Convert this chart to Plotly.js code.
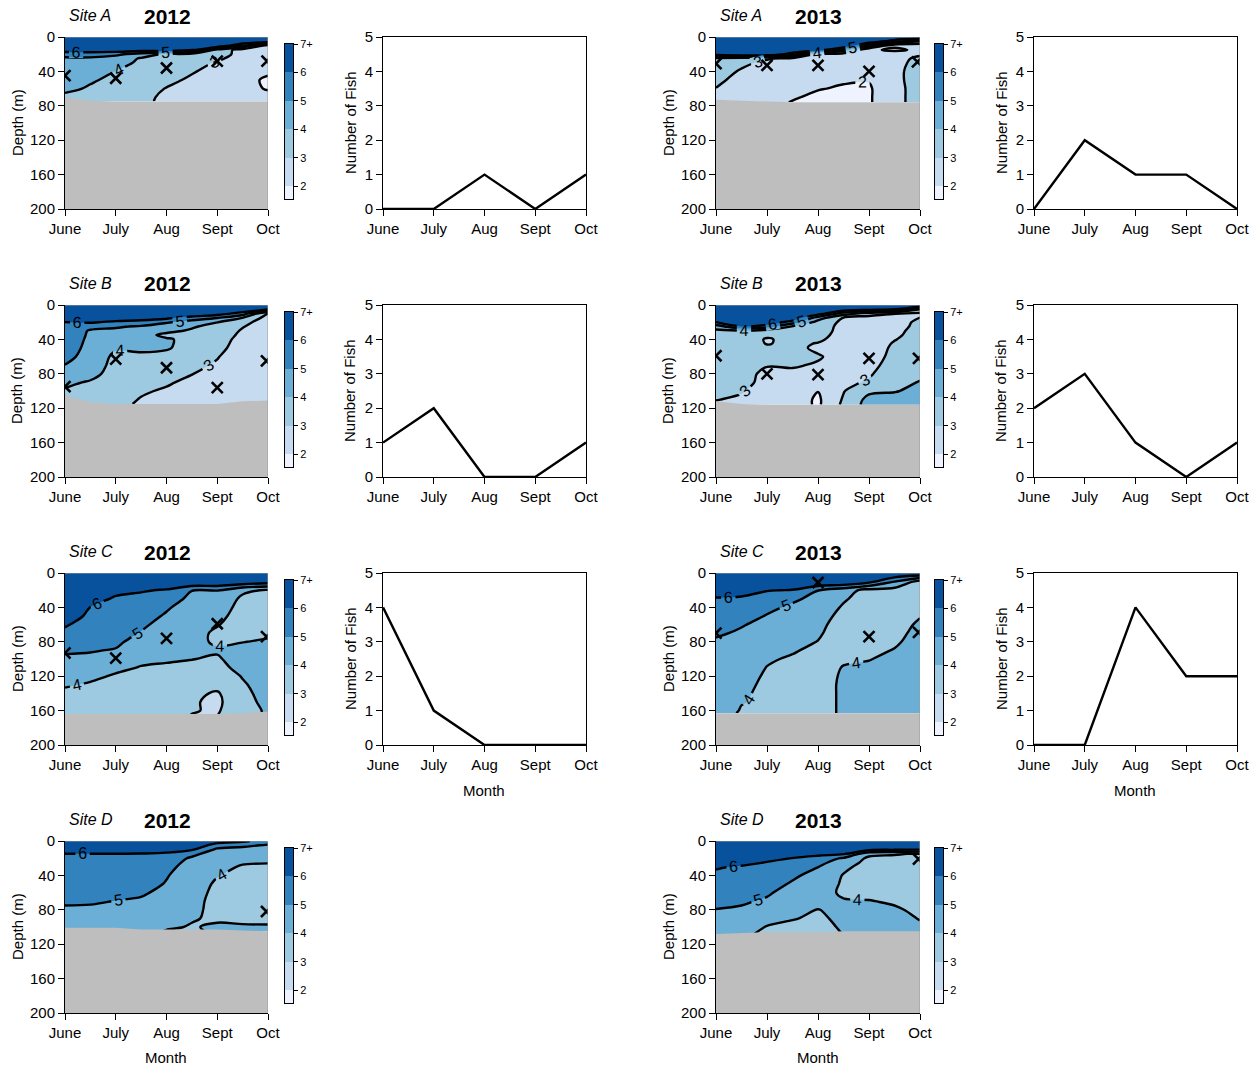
<!DOCTYPE html>
<html>
<head>
<meta charset="utf-8">
<script src="https://cdn.plot.ly/plotly-3.0.1.min.js"></script>
<style>
  html, body { margin: 0; padding: 0; background: #fff; }
  #chart { width: 1257px; height: 1067px; }
</style>
</head>
<body>
<div id="chart"></div>
<script>
// ---- shared axes values ----
const months = ['June', 'July', 'Aug', 'Sept', 'Oct'];
const monthPos = [0, 1, 2, 3, 4];
const gridMonths = [0, 0.5, 1, 1.5, 2, 2.5, 3, 3.5, 4];
const depthTicks = [0, 40, 80, 120, 160, 200];
const fishTicks = [0, 1, 2, 3, 4, 5];
const levelTicks = [2, 3, 4, 5, 6, 7];
const levelLabels = ['2', '3', '4', '5', '6', '7+'];
const levelEdges = [1.55, 2, 3, 4, 5, 6, 7];
const levelBands = [[0], [1], [2], [3], [4], [5]];

// ---- Site A 2012 ----
const depthA2012 = [0, 5, 10, 15, 20, 25, 30, 40, 50, 60, 70, 75];
const fieldA2012 = [ // one column per half month, June -> Oct
  [7, 7, 7, 6.5, 5.5, 4.8, 4.6, 4.5, 4.4, 4.2, 3.8, 3.8],
  [7, 7, 7, 6.5, 5.6, 4.8, 4.6, 4.4, 4.1, 3.9, 3.8, 3.8],
  [7, 7, 7, 6.7, 5.2, 4.6, 4.4, 3.98, 3.8, 3.7, 3.6, 3.6],
  [7, 7, 7, 6.5, 4.6, 3.9, 3.8, 3.7, 3.6, 3.5, 3.4, 3.3],
  [7, 7, 7, 6.8, 3.8, 3.7, 3.6, 3.5, 3.3, 2.95, 2.7, 2.7],
  [7, 7, 7, 6.2, 3.6, 3.5, 3.4, 3.1, 2.8, 2.6, 2.5, 2.5],
  [7, 7, 7, 3.6, 3.5, 3.2, 2.9, 2.6, 2.5, 2.5, 2.5, 2.5],
  [7, 7, 5, 2.6, 2.6, 2.5, 2.5, 2.5, 2.4, 2.4, 2.45, 2.5],
  [7, 7, 2.5, 2.5, 2.5, 2.4, 2.3, 2.2, 1.8, 1.9, 2.4, 2.5]
];
const floorA2012 = [70, 74, 75, 75, 75, 75, 75, 75, 75];
const markMonthA2012 = [0, 1, 2, 3, 3.98];
const markDepthA2012 = [45, 48, 36, 28, 28];
const fishA2012 = [0, 0, 1, 0, 1];

// ---- Site A 2013 ----
const depthA2013 = [0, 5, 10, 15, 20, 25, 30, 40, 50, 60, 70, 76];
const fieldA2013 = [
  [7, 7, 7, 7, 6.6, 3.6, 3.5, 3.4, 3.2, 2.98, 2.8, 2.8],
  [7, 7, 7, 7, 7, 3.4, 3.2, 2.9, 2.7, 2.6, 2.6, 2.6],
  [7, 7, 7, 7, 7, 3.1, 2.8, 2.6, 2.5, 2.4, 2.3, 2.3],
  [7, 7, 7, 7, 5.5, 2.7, 2.6, 2.5, 2.4, 2.3, 2.1, 1.95],
  [7, 7, 7, 6.5, 2.7, 2.5, 2.4, 2.3, 2.2, 2.05, 1.8, 1.8],
  [7, 7, 7, 4.5, 2.6, 2.5, 2.4, 2.3, 2.1, 1.9, 1.8, 1.8],
  [7, 6.8, 4.5, 2.1, 2.3, 2.4, 2.4, 2.3, 2.05, 1.9, 1.9, 1.9],
  [7, 5.5, 2.1, 1.9, 2.3, 2.5, 2.6, 2.7, 2.7, 2.7, 2.7, 2.7],
  [7, 4, 2.2, 2.1, 2.8, 3.3, 3.4, 3.5, 3.5, 3.4, 3.4, 3.4]
];
const floorA2013 = [73, 74, 75, 76, 76, 76, 76, 76, 76];
const markMonthA2013 = [0, 1, 2, 3, 3.95];
const markDepthA2013 = [31, 33, 33, 40, 29];
const fishA2013 = [0, 2, 1, 1, 0];

// ---- Site B 2012 ----
const depthB2012 = [0, 5, 10, 15, 20, 25, 30, 35, 40, 50, 60, 70, 80, 90, 100, 110, 115];
const fieldB2012 = [
  [7, 7, 7, 6.8, 5.98, 5.8, 5.7, 5.65, 5.6, 5.5, 5.3, 4.98, 4.6, 4.2, 3.9, 3.7, 3.6],
  [7, 7, 7, 6.7, 6.1, 5.3, 4.9, 4.85, 4.8, 4.7, 4.6, 4.5, 4.3, 3.9, 3.7, 3.5, 3.4],
  [7, 7, 7, 6.6, 5.8, 5.1, 4.8, 4.65, 4.5, 4.1, 3.8, 3.7, 3.6, 3.5, 3.4, 3.3, 3.2],
  [7, 7, 7, 6.5, 5.6, 4.9, 4.5, 4.3, 4.4, 4.2, 3.8, 3.6, 3.5, 3.3, 3.1, 2.95, 2.9],
  [7, 7, 7, 6.2, 5.1, 4.5, 4.2, 3.8, 4.1, 4.1, 3.7, 3.5, 3.3, 3.1, 2.9, 2.7, 2.6],
  [7, 7, 7, 5.5, 4.6, 4.1, 3.9, 3.8, 3.75, 3.6, 3.4, 3.2, 3.02, 2.8, 2.7, 2.6, 2.6],
  [7, 7, 6.5, 5.02, 4.02, 3.7, 3.6, 3.5, 3.4, 3.25, 3.05, 2.9, 2.8, 2.7, 2.6, 2.5, 2.5],
  [7, 7, 5.5, 3.98, 3.3, 3.05, 2.9, 2.8, 2.7, 2.6, 2.5, 2.5, 2.45, 2.4, 2.4, 2.4, 2.4],
  [7, 6.2, 2.8, 2.6, 2.5, 2.5, 2.5, 2.5, 2.5, 2.4, 2.4, 2.4, 2.4, 2.4, 2.4, 2.4, 2.4]
];
const floorB2012 = [105, 113, 115, 115, 115, 115, 115, 112, 111];
const markMonthB2012 = [0, 1, 2, 3, 3.97];
const markDepthB2012 = [95, 63, 73, 96, 65];
const fishB2012 = [1, 2, 0, 0, 1];

// ---- Site B 2013 ----
const depthB2013 = [0, 5, 10, 15, 20, 25, 30, 35, 40, 45, 50, 60, 70, 80, 90, 100, 110, 116];
const fieldB2013 = [
  [7, 7, 7, 6.8, 5.98, 4.5, 3.8, 3.7, 3.6, 3.6, 3.5, 3.5, 3.4, 3.3, 3.2, 3.1, 3.02, 2.9],
  [7, 7, 7, 7, 6.8, 5.98, 3.9, 3.7, 3.6, 3.6, 3.55, 3.5, 3.4, 3.3, 3.2, 3.05, 2.9, 2.8],
  [7, 7, 7, 7, 6.8, 5.5, 3.5, 3.2, 2.9, 2.95, 3.2, 3.3, 3.05, 2.8, 2.8, 2.7, 2.6, 2.6],
  [7, 7, 7, 6.8, 5.5, 3.9, 3.6, 3.4, 3.3, 3.2, 3.3, 3.3, 3.1, 2.8, 2.7, 2.6, 2.5, 2.5],
  [7, 7, 6.5, 4.5, 3.6, 3.5, 3.4, 3.3, 3.15, 2.95, 2.8, 3.1, 2.9, 2.6, 2.3, 2.02, 1.85, 1.85],
  [7, 6.8, 4.5, 2.9, 2.8, 2.7, 2.7, 2.65, 2.6, 2.6, 2.6, 2.6, 2.65, 2.7, 2.8, 2.95, 3.1, 3.2],
  [7, 6.4, 3.5, 2.6, 2.5, 2.45, 2.4, 2.4, 2.4, 2.4, 2.4, 2.5, 2.7, 2.9, 3.1, 3.8, 4.3, 4.4],
  [7, 6.02, 3.02, 2.7, 2.6, 2.6, 2.7, 2.8, 2.95, 3.1, 3.2, 3.3, 3.4, 3.5, 3.7, 3.95, 4.3, 4.3],
  [7, 3.98, 2.8, 3.02, 3.2, 3.3, 3.4, 3.45, 3.5, 3.5, 3.55, 3.6, 3.7, 3.8, 4.05, 4.2, 4.2, 4.2]
];
const floorB2013 = [112, 115, 116, 116, 116, 116, 116, 116, 116];
const markMonthB2013 = [0, 1, 2, 3, 3.97];
const markDepthB2013 = [59, 80, 81, 62, 62];
const fishB2013 = [2, 3, 1, 0, 1];

// ---- Site C 2012 ----
const depthC2012 = [0, 10, 20, 30, 40, 50, 60, 70, 80, 90, 100, 110, 120, 130, 140, 150, 160, 165];
const fieldC2012 = [
  [7, 7, 7, 7, 6.8, 6.5, 6.1, 5.8, 5.5, 5.15, 4.8, 4.6, 4.4, 4.1, 3.8, 3.6, 3.5, 3.5],
  [7, 7, 7, 6.6, 5.98, 5.8, 5.6, 5.4, 5.25, 5.05, 4.85, 4.6, 4.2, 3.9, 3.7, 3.6, 3.5, 3.5],
  [7, 7, 6.4, 5.8, 5.7, 5.6, 5.5, 5.35, 5.15, 4.95, 4.5, 4.2, 3.9, 3.7, 3.6, 3.55, 3.5, 3.5],
  [7, 7, 6.1, 5.7, 5.5, 5.35, 5.15, 4.95, 4.7, 4.45, 4.2, 3.95, 3.8, 3.7, 3.6, 3.5, 3.45, 3.45],
  [7, 7, 5.9, 5.4, 5.1, 4.9, 4.7, 4.55, 4.4, 4.25, 4.08, 3.9, 3.75, 3.6, 3.5, 3.4, 3.35, 3.35],
  [7, 7, 5.02, 4.8, 4.6, 4.5, 4.4, 4.3, 4.2, 4.1, 4.02, 3.8, 3.6, 3.4, 3.2, 3.1, 3.05, 2.98],
  [7, 7, 5.02, 4.8, 4.6, 4.3, 4.05, 3.85, 3.9, 4.1, 3.9, 3.7, 3.5, 3.3, 2.9, 2.8, 2.9, 2.98],
  [7, 6.8, 4.2, 3.8, 3.6, 3.55, 3.6, 3.8, 3.98, 4.3, 4.4, 4.3, 4.05, 3.9, 3.8, 3.75, 3.7, 3.7],
  [7, 6.5, 3.9, 3.6, 3.5, 3.5, 3.6, 3.85, 4.1, 4.4, 4.5, 4.5, 4.5, 4.4, 4.3, 4.2, 4.1, 4.1]
];
const floorC2012 = [164, 164, 164, 164, 164, 164, 164, 163, 161];
const markMonthC2012 = [0, 1, 2, 3, 3.97];
const markDepthC2012 = [93, 99, 76, 59, 74];
const fishC2012 = [4, 1, 0, 0, 0];

// ---- Site C 2013 ----
const depthC2013 = [0, 10, 20, 30, 40, 50, 60, 70, 80, 90, 100, 110, 120, 130, 140, 150, 160, 163];
const fieldC2013 = [
  [7, 7, 6.6, 5.9, 5.7, 5.5, 5.3, 5.1, 4.9, 4.8, 4.7, 4.6, 4.55, 4.5, 4.5, 4.45, 4.4, 4.4],
  [7, 7, 6.4, 5.85, 5.6, 5.35, 5.05, 4.9, 4.75, 4.6, 4.5, 4.4, 4.3, 4.2, 4.1, 4.03, 3.95, 3.9],
  [7, 7, 6.05, 5.6, 5.2, 4.95, 4.8, 4.6, 4.4, 4.25, 4.1, 3.98, 3.9, 3.85, 3.85, 3.9, 3.9, 3.9],
  [7, 7, 5.95, 5.15, 4.85, 4.7, 4.55, 4.4, 4.25, 4.08, 3.9, 3.8, 3.75, 3.7, 3.7, 3.7, 3.7, 3.7],
  [7, 7, 5.02, 4.75, 4.55, 4.35, 4.2, 4.1, 3.98, 3.8, 3.6, 3.55, 3.5, 3.5, 3.5, 3.5, 3.5, 3.5],
  [7, 7, 4.4, 4.1, 3.9, 3.75, 3.65, 3.6, 3.6, 3.7, 3.85, 4.05, 4.15, 4.2, 4.2, 4.2, 4.2, 4.2],
  [7, 6.3, 3.7, 3.6, 3.5, 3.45, 3.45, 3.5, 3.6, 3.75, 3.95, 4.2, 4.3, 4.3, 4.3, 4.3, 4.3, 4.3],
  [7, 5.02, 3.6, 3.5, 3.5, 3.55, 3.6, 3.7, 3.85, 4.05, 4.3, 4.4, 4.4, 4.4, 4.4, 4.4, 4.4, 4.4],
  [7, 3.6, 3.5, 3.6, 3.75, 3.95, 4.15, 4.3, 4.4, 4.5, 4.5, 4.5, 4.5, 4.5, 4.5, 4.5, 4.5, 4.5]
];
const floorC2013 = [163, 163, 163, 163, 163, 163, 163, 163, 163];
const markMonthC2013 = [0, 2, 3, 3.97];
const markDepthC2013 = [70, 11, 74, 69];
const fishC2013 = [0, 0, 4, 2, 2];

// ---- Site D 2012 ----
const depthD2012 = [0, 5, 10, 15, 20, 30, 40, 50, 60, 70, 80, 90, 100, 105];
const fieldD2012 = [
  [7, 7, 7, 5.95, 5.9, 5.8, 5.7, 5.5, 5.3, 5.1, 4.9, 4.7, 4.6, 4.6],
  [7, 7, 7, 5.95, 5.85, 5.75, 5.6, 5.45, 5.3, 5.1, 4.85, 4.7, 4.6, 4.6],
  [7, 7, 7, 5.95, 5.8, 5.7, 5.55, 5.4, 5.2, 4.98, 4.8, 4.65, 4.55, 4.5],
  [7, 7, 7, 5.9, 5.75, 5.6, 5.45, 5.3, 5.1, 4.9, 4.7, 4.5, 4.3, 4.3],
  [7, 7, 6.5, 5.8, 5.4, 5.2, 5.05, 4.95, 4.8, 4.7, 4.6, 4.4, 4.1, 3.95],
  [7, 6.8, 6.1, 5.2, 4.9, 4.7, 4.6, 4.5, 4.4, 4.3, 4.2, 4.05, 3.95, 3.9],
  [6.5, 5.5, 4.8, 4.6, 4.5, 4.3, 4.05, 3.85, 3.75, 3.7, 3.75, 3.9, 4.1, 4.1],
  [6.2, 5.2, 4.7, 4.5, 4.3, 3.9, 3.7, 3.6, 3.55, 3.55, 3.6, 3.8, 4.1, 4.15],
  [5.5, 4.9, 4.6, 4.5, 4.3, 3.8, 3.6, 3.55, 3.5, 3.5, 3.55, 3.75, 4.1, 4.2]
];
const floorD2012 = [101, 101, 101, 103, 103, 103, 103, 104, 105];
const markMonthD2012 = [3.97];
const markDepthD2012 = [82];

// ---- Site D 2013 ----
const depthD2013 = [0, 5, 10, 15, 20, 25, 30, 40, 50, 60, 70, 80, 90, 100, 108];
const fieldD2013 = [
  [7, 7, 7, 7, 6.8, 6.5, 6.1, 5.8, 5.6, 5.4, 5.2, 4.98, 4.8, 4.7, 4.6],
  [7, 7, 7, 7, 6.7, 6.3, 5.9, 5.7, 5.5, 5.3, 5.1, 4.9, 4.7, 4.5, 4.3],
  [7, 7, 7, 6.8, 6.3, 5.95, 5.8, 5.6, 5.35, 5.1, 4.9, 4.6, 4.3, 3.95, 3.7],
  [7, 7, 7, 6.6, 5.98, 5.8, 5.6, 5.15, 4.9, 4.7, 4.5, 4.3, 4.05, 3.8, 3.7],
  [7, 7, 7, 6.3, 5.6, 5.3, 5.02, 4.7, 4.45, 4.25, 4.15, 3.98, 3.85, 3.75, 3.7],
  [7, 7, 6.8, 6.1, 4.9, 4.5, 4.2, 3.95, 3.9, 3.9, 4.05, 4.2, 4.2, 4.1, 4.02],
  [7, 7, 6.3, 4.3, 3.8, 3.7, 3.65, 3.6, 3.6, 3.7, 4.05, 4.3, 4.4, 4.4, 4.4],
  [7, 7, 6.1, 4.1, 3.7, 3.6, 3.55, 3.5, 3.5, 3.6, 3.85, 4.15, 4.35, 4.4, 4.4],
  [7, 7, 6.02, 3.9, 3.6, 3.5, 3.5, 3.45, 3.45, 3.5, 3.6, 3.75, 3.95, 4.15, 4.2]
];
const floorD2013 = [108, 107, 106, 106, 106, 105, 105, 105, 105];
const markMonthD2013 = [3.97];
const markDepthD2013 = [21];

// ---- styling ----
const FONT = 'Liberation Sans, Arial, Helvetica, sans-serif';
const W = 1257, H = 1067;
const BLUES = ['#eff3ff', '#c6dbef', '#9ecae1', '#6baed6', '#3182bd', '#08519c'];
const GREY = '#bebebe';
// stepped scale: every band between two levels gets one flat colour
const contourScale = [
  [0, BLUES[0]], [0.2, BLUES[0]], [0.2, BLUES[1]], [0.4, BLUES[1]],
  [0.4, BLUES[2]], [0.6, BLUES[2]], [0.6, BLUES[3]], [0.8, BLUES[3]],
  [0.8, BLUES[4]], [0.95, BLUES[4]], [0.95, BLUES[5]], [1, BLUES[5]]
];
const barScale = [[0, BLUES[0]], [0.2, BLUES[1]], [0.4, BLUES[2]], [0.6, BLUES[3]], [0.8, BLUES[4]], [1, BLUES[5]]];

// pixel frames of the panels
const ROW_STEP = 268;
const contourCols = [[65, 268], [716, 920]];
const barCols = [[285, 293], [935, 943]];
const lineCols = [[383, 586], [1034, 1237]];
const rowTop = r => 37 + ROW_STEP * r;
const rowBot = r => 209 + ROW_STEP * r;

const panels = [
  {site: 'Site A', year: '2012', row: 0, col: 0, depth: depthA2012, z: fieldA2012, floor: floorA2012, mx: markMonthA2012, my: markDepthA2012, fish: fishA2012},
  {site: 'Site A', year: '2013', row: 0, col: 1, depth: depthA2013, z: fieldA2013, floor: floorA2013, mx: markMonthA2013, my: markDepthA2013, fish: fishA2013},
  {site: 'Site B', year: '2012', row: 1, col: 0, depth: depthB2012, z: fieldB2012, floor: floorB2012, mx: markMonthB2012, my: markDepthB2012, fish: fishB2012},
  {site: 'Site B', year: '2013', row: 1, col: 1, depth: depthB2013, z: fieldB2013, floor: floorB2013, mx: markMonthB2013, my: markDepthB2013, fish: fishB2013},
  {site: 'Site C', year: '2012', row: 2, col: 0, depth: depthC2012, z: fieldC2012, floor: floorC2012, mx: markMonthC2012, my: markDepthC2012, fish: fishC2012},
  {site: 'Site C', year: '2013', row: 2, col: 1, depth: depthC2013, z: fieldC2013, floor: floorC2013, mx: markMonthC2013, my: markDepthC2013, fish: fishC2013},
  {site: 'Site D', year: '2012', row: 3, col: 0, depth: depthD2012, z: fieldD2012, floor: floorD2012, mx: markMonthD2012, my: markDepthD2012, fish: null},
  {site: 'Site D', year: '2013', row: 3, col: 1, depth: depthD2013, z: fieldD2013, floor: floorD2013, mx: markMonthD2013, my: markDepthD2013, fish: null}
];

const axName = (l, n) => l + 'axis' + (n === 1 ? '' : n);
const axRef = (l, n) => l + (n === 1 ? '' : n);
const pxX = v => v / W;
const pxY = v => 1 - v / H;

const tickFont = {family: FONT, size: 15, color: '#000'};
function baseAxis(extra) {
  return Object.assign({
    showgrid: false, zeroline: false, fixedrange: true,
    showline: true, linecolor: '#000', linewidth: 1,
    ticks: 'outside', ticklen: 6, tickwidth: 1, tickcolor: '#000',
    tickfont: tickFont, automargin: false
  }, extra);
}

const data = [];
const layout = {
  width: W, height: H,
  margin: {l: 0, r: 0, t: 0, b: 0},
  paper_bgcolor: '#fff', plot_bgcolor: '#fff',
  font: {family: FONT, color: '#000'},
  showlegend: false,
  annotations: [],
  shapes: []
};

function addText(text, x, y, opts) {
  layout.annotations.push(Object.assign({
    text: text, xref: 'paper', yref: 'paper', x: pxX(x), y: pxY(y),
    xanchor: 'center', yanchor: 'middle', showarrow: false,
    font: {family: FONT, size: 15, color: '#000'}
  }, opts || {}));
}

let n = 1;
panels.forEach(p => {
  const top = rowTop(p.row), bot = rowBot(p.row);
  const [cx0, cx1] = contourCols[p.col];

  // depth section
  const xr = axRef('x', n), yr = axRef('y', n);
  layout[axName('x', n)] = baseAxis({
    domain: [pxX(cx0), pxX(cx1)], anchor: yr, range: [0, 4],
    tickvals: monthPos, ticktext: months
  });
  layout[axName('y', n)] = baseAxis({
    domain: [pxY(bot), pxY(top)], anchor: xr, range: [200, 0],
    tickvals: depthTicks
  });
  data.push({
    type: 'contour', x: gridMonths, y: p.depth, z: p.z, transpose: true,
    xaxis: xr, yaxis: yr, autocontour: false,
    contours: {start: 2, end: 6, size: 1, coloring: 'fill', showlabels: true,
      labelfont: {family: FONT, size: 16, color: '#000'}},
    line: {color: '#000', width: 2.4, smoothing: 1},
    colorscale: contourScale, showscale: false, hoverinfo: 'skip'
  });
  data.push({
    type: 'scatter', mode: 'lines', xaxis: xr, yaxis: yr,
    x: gridMonths.concat([4, 0]), y: p.floor.concat([200, 200]),
    fill: 'toself', fillcolor: GREY, line: {width: 0, color: GREY}, hoverinfo: 'skip'
  });
  data.push({
    type: 'scatter', mode: 'markers', xaxis: xr, yaxis: yr,
    x: p.mx, y: p.my,
    marker: {symbol: 'x-thin', size: 11, color: '#000', line: {width: 2.6, color: '#000'}},
    hoverinfo: 'skip'
  });
  // faint frame on the top and right sides
  layout.shapes.push({
    type: 'path', xref: xr, yref: yr, path: 'M0,0L4,0L4,200',
    line: {color: '#9a9a9a', width: 1}, layer: 'above'
  });
  n++;

  // level key
  const [bx0, bx1] = barCols[p.col];
  const bxr = axRef('x', n), byr = axRef('y', n);
  layout[axName('x', n)] = baseAxis({
    domain: [pxX(bx0), pxX(bx1)], anchor: byr, range: [0, 1],
    ticks: '', showticklabels: false, mirror: true
  });
  layout[axName('y', n)] = baseAxis({
    domain: [pxY(bot - 10), pxY(top + 7)], anchor: bxr, range: [levelEdges[0], 7],
    side: 'right', mirror: true, tickvals: levelTicks, ticktext: levelLabels,
    ticklen: 4, tickfont: {family: FONT, size: 11, color: '#000'}
  });
  data.push({
    type: 'heatmap', x: [0, 1], y: levelEdges, z: levelBands,
    zmin: 0, zmax: 5, colorscale: barScale, showscale: false,
    xaxis: bxr, yaxis: byr, hoverinfo: 'skip'
  });
  n++;

  // titles
  addText('<i>' + p.site + '</i>', [67, 718][p.col], 15 + ROW_STEP * p.row,
    {xanchor: 'left', font: {family: FONT, size: 16, color: '#000'}});
  addText('<b>' + p.year + '</b>', [167, 818][p.col], 16 + ROW_STEP * p.row,
    {font: {family: FONT, size: 21, color: '#000'}});
  addText('Depth (m)', [17, 668][p.col], (top + bot) / 2, {textangle: -90});

  // monthly fish counts
  if (p.fish) {
    const [lx0, lx1] = lineCols[p.col];
    const lxr = axRef('x', n), lyr = axRef('y', n);
    layout[axName('x', n)] = baseAxis({
      domain: [pxX(lx0), pxX(lx1)], anchor: lyr, range: [0, 4], mirror: true,
      tickvals: monthPos, ticktext: months
    });
    layout[axName('y', n)] = baseAxis({
      domain: [pxY(bot), pxY(top)], anchor: lxr, range: [0, 5], mirror: true,
      tickvals: fishTicks
    });
    data.push({
      type: 'scatter', mode: 'lines', x: monthPos, y: p.fish,
      xaxis: lxr, yaxis: lyr, cliponaxis: false,
      line: {color: '#000', width: 2.4}, hoverinfo: 'skip'
    });
    addText('Number of Fish', [350, 1001][p.col], (top + bot) / 2, {textangle: -90});
    n++;
  }
});

addText('Month', 484, 790);
addText('Month', 1135, 790);
addText('Month', 166, 1057);
addText('Month', 818, 1057);

Plotly.newPlot('chart', data, layout, {staticPlot: true, displayModeBar: false});
</script>
</body>
</html>
